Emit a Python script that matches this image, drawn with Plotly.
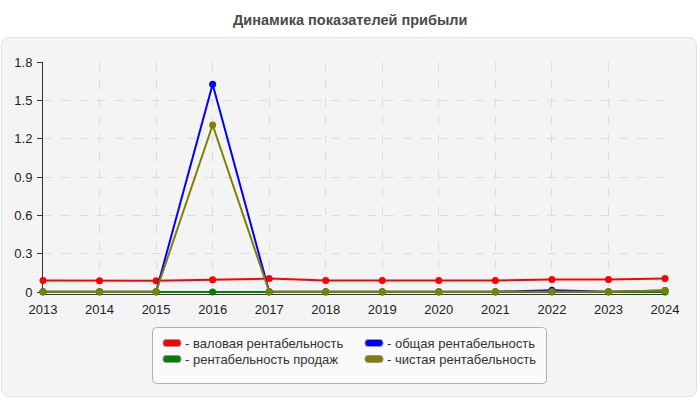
import plotly.graph_objects as go

years = [2013, 2014, 2015, 2016, 2017, 2018, 2019, 2020, 2021, 2022, 2023, 2024]
gross = [0.09, 0.088, 0.088, 0.095, 0.105, 0.09, 0.09, 0.09, 0.09, 0.097, 0.097, 0.105]
total = [0.002, 0.002, 0.002, 1.625, 0.002, 0.002, 0.002, 0.002, 0.002, 0.014, 0.002, 0.012]
sales = [0.0, 0.0, 0.0, 0.0, 0.0, 0.0, 0.0, 0.0, 0.0, 0.0, 0.0, 0.0]
net = [0.002, 0.002, 0.002, 1.307, 0.002, 0.002, 0.002, 0.002, 0.002, 0.002, 0.002, 0.012]

names = ["- валовая рентабельность", "- общая рентабельность",
         "- рентабельность продаж", "- чистая рентабельность"]
colors = ["#ff0000", "#0000ff", "#008000", "#808000"]
series = [gross, total, sales, net]
yticks = [0, 0.3, 0.6, 0.9, 1.2, 1.5, 1.8]
ytick_text = ["0", "0.3", "0.6", "0.9", "1.2", "1.5", "1.8"]

W, H = 700, 400
L, R, T, B = 43, 35, 62, 106
PW, PH = W - L - R, H - T - B
YMIN = -1.8 * 2 / 230.0  # 2 px of room below zero so the zero lines are not clipped
Y0PX = 292  # pixel row of y=0


def px(x):
    return (x - L) / PW


def py(y):
    return (H - B - y) / PH


def rrect(x0, y0, x1, y1, r):
    rx = r / PW
    ry = r / PH
    a0, a1 = px(x0), px(x1)
    b0, b1 = py(y1), py(y0)
    return (f"M {a0+rx},{b1} L {a1-rx},{b1} Q {a1},{b1} {a1},{b1-ry} "
            f"L {a1},{b0+ry} Q {a1},{b0} {a1-rx},{b0} L {a0+rx},{b0} "
            f"Q {a0},{b0} {a0},{b0+ry} L {a0},{b1-ry} Q {a0},{b1} {a0+rx},{b1} Z")


fig = go.Figure()
for name, col, vals in zip(names, colors, series):
    fig.add_trace(go.Scatter(
        x=years, y=vals, name=name, mode="lines+markers",
        line=dict(color=col, width=2),
        marker=dict(color=col, size=7, symbol="circle"),
        showlegend=False, cliponaxis=False))

shapes = [
    dict(type="path", xref="paper", yref="paper", path=rrect(1.5, 37.5, 696.5, 396.5, 8),
         fillcolor="#f4f4f4", line=dict(color="#e2e2e2", width=1), layer="below"),
    dict(type="path", xref="paper", yref="paper", path=rrect(152.5, 327.5, 546.5, 383.5, 4),
         fillcolor="#fafafa", line=dict(color="#b0b0b0", width=1), layer="below"),
]
annotations = [
    dict(text="<b>Динамика показателей прибыли</b>", x=0.5, xref="paper", y=py(20), yref="paper",
         showarrow=False, xanchor="center", yanchor="middle",
         font=dict(family="Liberation Sans, Arial", size=14.5, color="#4a4a4a"),
         xshift=(W / 2 - (L + PW / 2)))
]
leg_pos = [(163, 343), (365, 343), (163, 359), (365, 359)]
for (lx, ly), name, col in zip(leg_pos, names, colors):
    shapes.append(dict(type="path", xref="paper", yref="paper",
                       path=rrect(lx, ly - 3.5, lx + 18, ly + 3.5, 3),
                       fillcolor=col, line=dict(color="#999999", width=1)))
    annotations.append(dict(text=name, x=px(lx + 20), y=py(ly), xref="paper", yref="paper",
                            showarrow=False, xanchor="left", yanchor="middle",
                            font=dict(family="Liberation Sans, Arial", size=13, color="#333333")))

fig.update_layout(
    width=W, height=H,
    margin=dict(l=L, r=R, t=T, b=B, pad=0),
    paper_bgcolor="#ffffff", plot_bgcolor="#fbfbf4",
    shapes=shapes, annotations=annotations,
    font=dict(family="Liberation Sans, Arial", size=12, color="#222222"),
    xaxis=dict(range=[2013, 2024], tickvals=years, ticktext=[str(y) for y in years],
               showgrid=True, gridcolor="#dddddd", griddash="dash", gridwidth=1,
               showline=True, linecolor="#333333", linewidth=1, layer="below traces",
               ticks="", ticklabelstandoff=3, zeroline=False,
               tickfont=dict(size=13, color="#222222")),
    yaxis=dict(range=[YMIN, 1.8], tickvals=yticks, ticktext=ytick_text,
               showgrid=True, gridcolor="#dddddd", griddash="dash", gridwidth=1,
               showline=True, linecolor="#333333", linewidth=1, layer="below traces",
               ticks="outside", ticklen=5, tickcolor="#333333", zeroline=False,
               ticklabelstandoff=2,
               tickfont=dict(size=13, color="#222222")),
)

fig.write_html("out.html")
